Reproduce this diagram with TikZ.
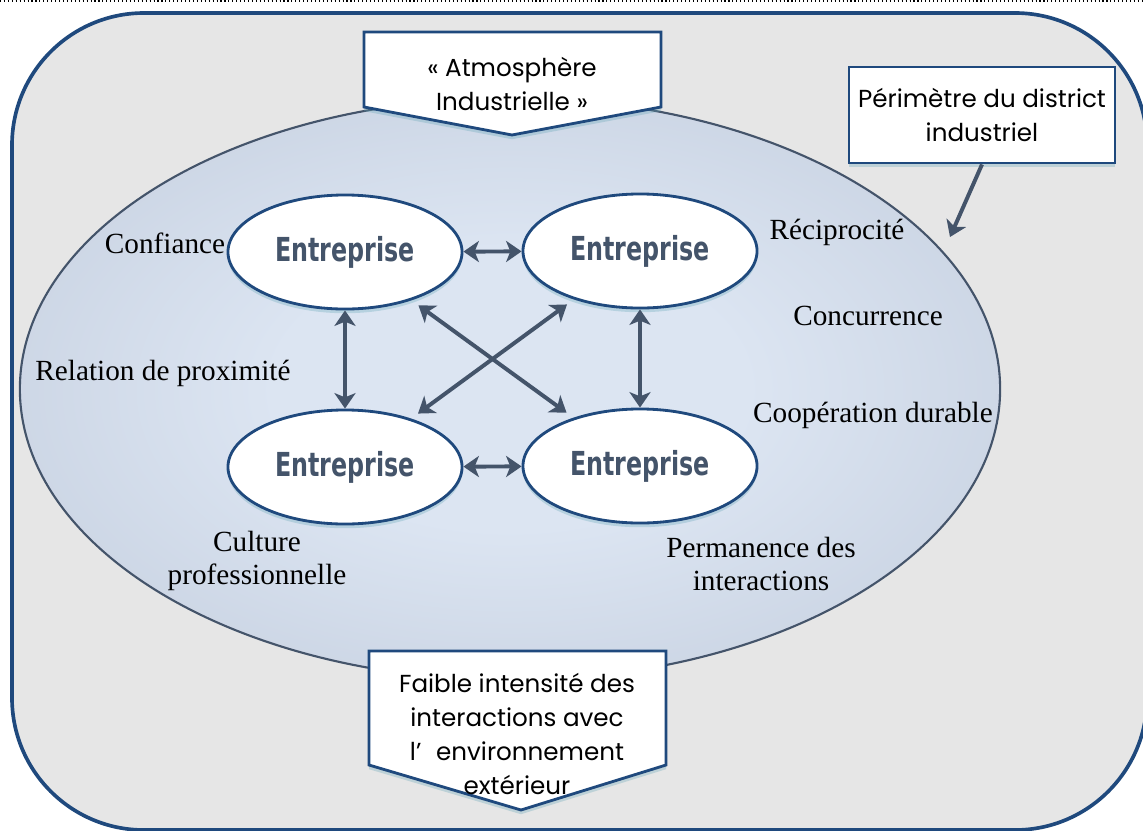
\documentclass[tikz,border=0pt]{standalone}
\usepackage{fontspec}
\setmainfont{Liberation Serif}
\newfontfamily\calloutfont{Poppins}
\newfontfamily\entfont{DejaVu Sans Condensed}[FakeStretch=0.8]
\usetikzlibrary{arrows.meta,shapes.geometric,shadows}
\definecolor{borderblue}{HTML}{1F497D}
\definecolor{slate}{HTML}{44546A}
\definecolor{bggray}{HTML}{E6E6E6}
\definecolor{atmoin}{HTML}{DCE5F2}
\definecolor{atmoout}{HTML}{A4B0C4}
\definecolor{glow}{HTML}{5FA3B5}
\pgfdeclareradialshading{atmo}{\pgfpoint{0bp}{0bp}}{color(0bp)=(atmoin); color(12bp)=(atmoin); color(32bp)=(atmoin!60!atmoout); color(50bp)=(atmoout); color(75bp)=(atmoout)}
\tikzset{
  entreprise/.style={ellipse,draw=borderblue,line width=2pt,fill=white,inner sep=0pt,
    minimum width=5.85cm,minimum height=2.85cm,text=slate,
    font=\entfont\bfseries\fontsize{23.5}{27}\selectfont,
    drop shadow={shadow xshift=0pt,shadow yshift=-3pt,fill=glow,opacity=0.3}},
  label/.style={font=\fontsize{20.8}{23}\selectfont,align=center},
  callout/.style={draw=borderblue,line width=2pt,fill=white,line join=miter,
    drop shadow={shadow xshift=0pt,shadow yshift=-3pt,fill=glow,opacity=0.3}},
  callouttext/.style={font=\calloutfont\fontsize{17.5}{24}\selectfont,align=center},
  biarrow/.style={draw=slate,line width=2.8pt,{Stealth[length=11pt,width=15pt,inset=3pt]}-{Stealth[length=11pt,width=15pt,inset=3pt]}}
}
\begin{document}
\begin{tikzpicture}[x=0.025cm,y=-0.025cm]
  \useasboundingbox (0,0) rectangle (1143,830);
  \draw[dotted,line width=0.8pt] (0,1) -- (1143,1);
  \draw[draw=borderblue,line width=2.6pt,fill=bggray,rounded corners=3.3cm]
    (12,13) rectangle (1147,830);
  \node[ellipse,draw=slate,line width=1.5pt,shading=atmo,
    minimum width=24.5cm,minimum height=14.55cm] (atmo) at (510,389) {};
  % labels
  \node[label] (confiance) at (165,243) {Confiance};
  \node[label] (reciprocite) at (837,232) {Réciprocité};
  \node[label] (concurrence) at (868,316) {Concurrence};
  \node[label] (proximite) at (163,373) {Relation de proximité};
  \node[label] (cooperation) at (873,415) {Coopération durable};
  \node[label] (culture) at (257,561) {Culture\\professionnelle};
  \node[label] (permanence) at (761,564) {Permanence des\\interactions};
  % entreprises
  \node[entreprise] (e1) at (345,252) {Entreprise};
  \node[entreprise] (e2) at (640,251) {Entreprise};
  \node[entreprise] (e3) at (345,467) {Entreprise};
  \node[entreprise] (e4) at (640,466) {Entreprise};
  \begin{scope}[biarrow]
    \draw (e1) -- (e2);
    \draw (e3) -- (e4);
    \draw (e1) -- (e3);
    \draw (e2) -- (e4);
    \draw[shorten <=6pt,shorten >=6pt] (e1) -- (e4);
    \draw[shorten <=6pt,shorten >=6pt] (e2) -- (e3);
  \end{scope}
  % callouts
  \draw[callout] (364,32) -- (661,32) -- (661,107) -- (512,135) -- (364,107) -- cycle;
  \node[callouttext] (atmosphere) at (512,84) {« Atmosphère\\Industrielle »};
  \draw[callout] (369,651) -- (666,651) -- (666,765) -- (521,810) -- (369,765) -- cycle;
  \node[callouttext] (exterieur) at (517,734)
    {Faible intensité des\\interactions avec\\l’\hspace{0.6em}environnement\\extérieur};
  \node[callout,callouttext,minimum width=6.65cm,minimum height=2.4cm,inner sep=0pt]
    (perimetre) at (982,115) {Périmètre du district\\industriel};
  \coordinate (tip) at (950,237);
  \draw[draw=slate,line width=2.8pt,-{Stealth[length=11pt,width=15pt,inset=3pt]}]
    (perimetre.south) -- (tip);
\end{tikzpicture}
\end{document}
